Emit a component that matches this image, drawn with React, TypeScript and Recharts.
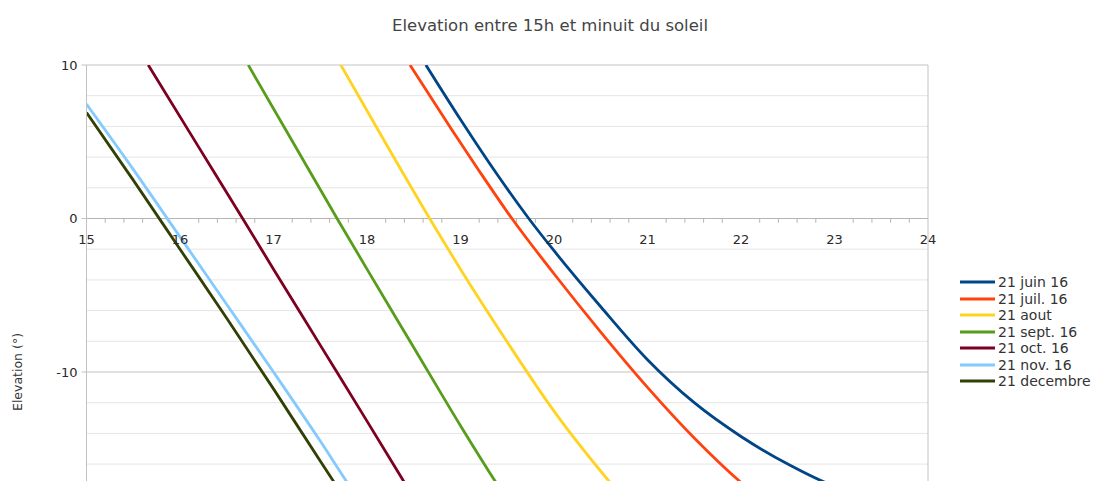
import React from 'react';
import { LineChart, Line, XAxis, YAxis, CartesianGrid, ReferenceLine, ReferenceDot } from 'recharts';

// ---- tick labels / axis values ----
const xTicks = [15, 16, 17, 18, 19, 20, 21, 22, 23, 24];
const yTicks = [-10, 0, 10];
const yMinor = [-28, -26, -24, -22, -18, -16, -14, -12, -8, -6, -4, -2, 2, 4, 6, 8];
const xMinor: number[] = [];
for (let i = 0; i < 45; i++) {
  if (i % 5 !== 0) xMinor.push(Math.round((15 + i * 0.2) * 10) / 10);
}

// ---- series (hour, elevation in degrees) ----
const hoursJuin = [18.63, 19.0, 19.4, 19.73, 20, 20.5, 21, 21.5, 22, 22.5, 23, 23.5, 24];
const elevJuin = [10, 6.45, 2.8, 0, -2.1, -5.75, -9.2, -12.0, -14.2, -16.0, -17.45, -18.3, -18.6];

const hoursJuil = [18.46, 18.9, 19.2, 19.55, 20, 20.5, 21, 21.5, 22, 22.5];
const elevJuil = [10, 5.85, 3.1, 0, -3.6, -7.4, -11.0, -14.3, -17.2, -19.6];

const hoursAout = [17.72, 18.2, 18.67, 19, 19.5, 20, 20.6, 21];
const elevAout = [10, 4.9, 0, -3.3, -8.05, -12.55, -17.2, -20.0];

const hoursSept = [16.73, 17.2, 17.68, 18, 18.5, 19, 19.4, 19.7];
const elevSept = [10, 5.05, 0, -3.3, -8.4, -13.5, -17.4, -20.2];

const hoursOct = [15.66, 16.2, 16.67, 17, 17.5, 18, 18.35, 18.6];
const elevOct = [10, 4.65, 0, -3.3, -8.25, -13.2, -16.7, -19.2];

const hoursNov = [15, 15.5, 16, 16.5, 17, 17.5, 17.8, 18];
const elevNov = [7.45, 3.2, -1.2, -5.6, -10.0, -14.5, -17.3, -19.1];

const hoursDec = [15, 15.5, 16, 16.5, 17, 17.5, 17.8];
const elevDec = [6.9, 2.5, -2.0, -6.5, -11.1, -15.8, -18.6];

const seriesNames = ['21 juin 16', '21 juil. 16', '21 aout', '21 sept. 16', '21 oct. 16', '21 nov. 16', '21 decembre'];
const seriesColors = ['#004586', '#ff420e', '#ffd320', '#579d1c', '#7e0021', '#83caff', '#314004'];
const seriesHours = [hoursJuin, hoursJuil, hoursAout, hoursSept, hoursOct, hoursNov, hoursDec];
const seriesElev = [elevJuin, elevJuil, elevAout, elevSept, elevOct, elevNov, elevDec];

const FONT = '"DejaVu Sans", sans-serif';
const GRID_MAJOR = '#c4c0c0';
const GRID_MINOR = '#e6e4e4';

export default function App() {
  return (
    <div style={{ position: 'fixed', left: 0, top: 0, width: 1094, height: 700, background: '#fff', fontFamily: FONT }}>
      <LineChart width={1094} height={700} margin={{ top: 65, right: 166, bottom: 21, left: 0 }}>
        <CartesianGrid horizontalValues={yMinor} vertical={false} stroke={GRID_MINOR} strokeWidth={1} />
        <CartesianGrid stroke={GRID_MAJOR} strokeWidth={1} />
        <XAxis
          type="number"
          dataKey="h"
          domain={[15, 24]}
          ticks={xTicks}
          allowDataOverflow
          tick={false}
          tickLine={false}
          axisLine={false}
          height={0}
        />
        <YAxis
          type="number"
          domain={[-30, 10]}
          ticks={yTicks}
          allowDataOverflow
          width={86.5}
          tickSize={5}
          tickMargin={4}
          tickLine={{ stroke: GRID_MAJOR }}
          axisLine={{ stroke: GRID_MAJOR }}
          tick={{ fontSize: 13, fill: '#2a2a2a', fontFamily: FONT }}
        />
        <ReferenceLine y={0} stroke="#b8b4b4" strokeWidth={1.2} />
        {xMinor.map((m) => (
          <ReferenceLine
            key={'mt' + m}
            segment={[{ x: m, y: 0 }, { x: m, y: -0.28 }]}
            stroke="#b8b4b4"
            strokeWidth={1}
          />
        ))}
        {xTicks.map((t) => (
          <ReferenceDot
            key={'xl' + t}
            x={t}
            y={0}
            r={0}
            fill="none"
            stroke="none"
            label={{ value: String(t), position: 'bottom', offset: 16, fill: '#2a2a2a', fontSize: 13, fontFamily: FONT }}
          />
        ))}
        {seriesNames.map((name, si) => (
          <Line
            key={name}
            name={name}
            data={seriesHours[si].map((h, i) => ({ h, e: seriesElev[si][i] }))}
            dataKey="e"
            type="monotone"
            stroke={seriesColors[si]}
            strokeWidth={2.8}
            dot={false}
            activeDot={false}
            isAnimationActive={false}
          />
        ))}
      </LineChart>
      <div style={{ position: 'absolute', left: 959, top: 274, fontFamily: FONT, fontSize: 14, color: '#333' }}>
        {seriesNames.map((name, i) => (
          <div key={name} style={{ display: 'flex', alignItems: 'center', height: 16.5 }}>
            <svg width={39} height={6} style={{ display: 'block' }}>
              <line x1={1} y1={3} x2={36} y2={3} stroke={seriesColors[i]} strokeWidth={3} />
            </svg>
            <span style={{ whiteSpace: 'nowrap', lineHeight: '16.5px' }}>{name}</span>
          </div>
        ))}
      </div>
      <svg width={1094} height={481} style={{ position: 'absolute', left: 0, top: 0, pointerEvents: 'none' }}>
        <text x={550} y={31} textAnchor="middle" fontSize={16.5} fill="#444" fontFamily={FONT}>
          Elevation entre 15h et minuit du soleil
        </text>
        <text transform="translate(22, 372) rotate(-90)" textAnchor="middle" fontSize={12.5} fill="#333" fontFamily={FONT}>
          Elevation (°)
        </text>
      </svg>
    </div>
  );
}
